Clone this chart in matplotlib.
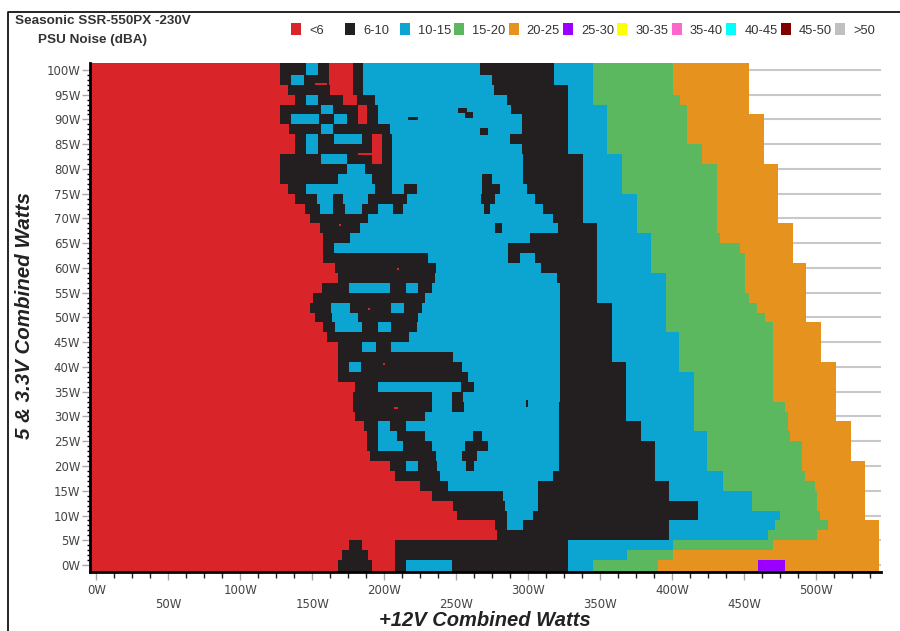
import numpy as np
import matplotlib
matplotlib.use("Agg")
import matplotlib.pyplot as plt
from matplotlib.colors import ListedColormap
from matplotlib.lines import Line2D
from matplotlib.patches import Rectangle

# classes of the noise map
R, K, B, G, O, P = 0, 1, 2, 3, 4, 5

legend_labels = ['<6', '6-10', '10-15', '15-20', '20-25', '25-30', '30-35', '35-40', '40-45', '45-50', '>50']
legend_colors = ['#D9252A', '#231F20', '#0CA5D2', '#5BB85F', '#E6921E', '#9900FF',
                 '#FFFF00', '#FF66CC', '#00FFFF', '#800000', '#C0C0C0']

# rows of the map, top to bottom, one every 2W on the 5 & 3.3V axis
row_watts = list(range(100, -2, -2))

# right hand stairs, watts on the +12V axis where each class stops
orange_edge = [453] * 5 + [463.5] * 5 + [473] * 6 + [483.5] * 4 + [493] * 6 + [503] * 4 + [513.5] * 6 + [524] * 4 + [534] * 6 + [543.5] * 5
green_edge = [400.3] * 3 + [405.2] + [410] * 4 + [420.5] * 2 + [430.9] * 7 + [433, 446.9] + [450.3] * 4 + [453, 458.7, 464.2] \
    + [469.8] * 8 + [478.1, 480.2, 480.2, 481.6, 489.9, 489.9, 489.9, 492, 499, 500.4, 500.4, 502.5, 508, 500.4, 469.8, 400.3, 390]
cyan_edge = [344.8] * 4 + [354.5] * 5 + [365] * 4 + [375.3] * 4 + [385.1] * 4 + [395.5] * 6 + [404.5] * 4 + [414.9] * 6 + [424] * 4 \
    + [435, 435, 455.2, 455.2, 474.7, 471.2, 466.3, 400.3, 368.4, 344.8]
black_edge = [317.7] * 2 + [327.4] * 7 + [337.8] * 7 + [347.6] * 8 + [358] * 6 + [367.7] * 6 + [378.1] * 2 + [387.8] * 4 \
    + [397.6] * 2 + [417.7] * 2 + [397.6] * 2 + [327.4] * 3

# left hand part, (class, watts where it stops) from the y axis on
left_runs = [
    [(R, 127.4), (K, 145.5), (B, 153.8), (K, 161.5), (R, 178.1), (K, 185), (B, 266.3)],
    [(R, 127.4), (K, 135), (B, 144), (K, 161.5), (R, 178.1), (K, 185), (B, 274.7)],
    [(R, 133), (K, 162), (R, 178.1), (K, 185), (B, 276)],
    [(R, 137.8), (K, 145.5), (B, 153.8), (K, 171.2), (R, 180.9), (K, 193.4), (B, 285)],
    [(R, 127.4), (K, 155.9), (B, 164.2), (K, 181.6), (R, 187.8), (K, 195.5), (B, 287.8)],
    [(R, 127.4), (K, 135), (B, 154.5), (K, 164.9), (B, 174), (K, 181.6), (R, 187.8), (K, 195.5), (B, 295.5)],
    [(R, 134), (K, 155.9), (B, 164.2), (K, 203.8), (B, 295.5)],
    [(R, 137.8), (K, 145.5), (B, 153.8), (K, 164.9), (B, 184.4), (K, 191.3), (R, 198.3), (K, 205.2), (B, 287.2)],
    [(R, 137.8), (K, 145.5), (B, 153.8), (K, 191.3), (R, 198.3), (K, 205.2), (B, 295.5)],
    [(R, 127.4), (K, 155.9), (B, 174), (K, 191.3), (R, 198.3), (K, 205.2), (B, 296.2)],
    [(R, 127.4), (K, 174), (B, 186.5), (K, 205.2), (B, 296.2)],
    [(R, 127.4), (K, 167.7), (B, 191.3), (K, 205.2), (B, 267.7), (K, 274.7), (B, 296.2)],
    [(R, 133), (K, 145.5), (B, 193.4), (K, 205.2), (B, 213.5), (K, 222.6), (B, 267.7), (K, 280.2), (B, 299)],
    [(R, 137.8), (K, 153), (B, 164.2), (K, 171.2), (B, 188.5), (K, 215.6), (B, 267), (K, 276.7), (B, 304.5)],
    [(R, 145), (K, 155.2), (B, 164.2), (K, 172.6), (B, 184.4), (K, 195.5), (B, 205.9), (K, 212.8), (B, 269), (K, 273.3), (B, 310)],
    [(R, 148.3), (K, 188.5), (B, 317)],
    [(R, 155), (K, 183), (B, 276.7), (K, 281.6), (B, 320.5)],
    [(R, 157.3), (K, 176), (B, 301)],
    [(R, 157.3), (K, 164.9), (B, 285.8)],
    [(R, 157.3), (K, 230.2), (B, 285.8), (K, 294), (B, 304.5)],
    [(R, 165.6), (K, 235.8), (B, 308.7)],
    [(R, 167.7), (K, 235), (B, 319.8)],
    [(R, 156.6), (K, 175.3), (B, 203.8), (K, 214.9), (B, 223.3), (K, 233), (B, 321.9)],
    [(R, 150.3), (K, 228), (B, 321.9)],
    [(R, 148.3), (K, 162.8), (B, 176), (K, 204.5), (B, 213.5), (K, 226), (B, 321.9)],
    [(R, 151.7), (K, 163.5), (B, 181.6), (K, 223.3), (B, 321.9)],
    [(R, 157.3), (K, 165.6), (B, 184.4), (K, 195.5), (B, 204.5), (K, 222.6), (B, 321.9)],
    [(R, 160), (K, 217), (B, 321.9)],
    [(R, 167.7), (K, 184.4), (B, 194), (K, 204.5), (B, 321.9)],
    [(R, 167.7), (K, 247.6), (B, 321.9)],
    [(R, 167.7), (K, 175.3), (B, 183.7), (K, 253.8), (B, 321.9)],
    [(R, 167.7), (K, 258), (B, 321.9)],
    [(R, 179.5), (K, 195.5), (B, 253.1), (K, 262.2), (B, 321.9)],
    [(R, 178.1), (K, 233), (B, 246.9), (K, 254.5), (B, 321.9)],
    [(R, 178.1), (K, 233), (B, 246.9), (K, 255.2), (B, 321.2)],
    [(R, 179.5), (K, 228), (B, 321.2)],
    [(R, 186), (K, 195.5), (B, 203.8), (K, 214.9), (B, 321.2)],
    [(R, 187.8), (K, 195.5), (B, 208.7), (K, 228), (B, 261.5), (K, 267.7), (B, 321.2)],
    [(R, 187.8), (K, 195.5), (B, 212.8), (K, 233), (B, 255.9), (K, 272), (B, 321.2)],
    [(R, 190), (K, 235.8), (B, 253.8), (K, 264.2), (B, 321.2)],
    [(R, 203.8), (K, 214.9), (B, 223.3), (K, 236.5), (B, 256.6), (K, 262.2), (B, 321.2)],
    [(R, 207.3), (K, 238.5), (B, 317)],
    [(R, 224.7), (K, 244), (B, 306.6)],
    [(R, 233), (K, 282.3), (B, 306.6)],
    [(R, 247.6), (K, 283.7), (B, 306.6)],
    [(R, 250.3), (K, 285), (B, 303)],
    [(R, 276.7), (K, 285), (B, 296.2)],
    [(R, 278.1)],
    [(R, 175.3), (K, 184.4), (R, 207.3), (K, 327.4)],
    [(R, 170.5), (K, 188.5), (R, 207.3), (K, 327.4)],
    [(R, 167.7), (K, 191.3), (R, 207.3), (K, 214.9), (B, 246.9), (K, 327.4)],
]

purple_x = (459.4, 478.1)   # only on the 0W row

# small bits that are thinner than a row: x start, x end, y low, y high
black_bits = [(251, 257, 91.3, 92.3), (256, 261.5, 90.3, 91.5), (216, 223, 89.9, 90.4), (266.5, 272, 86.8, 88.3), (298.6, 299.6, 32, 33.3)]
red_bits = [(208.7, 210.2, 59.6, 60), (188.5, 190, 51.5, 51.9), (199, 200.5, 40.4, 40.8), (206.5, 209.5, 31.5, 31.9), (168.3, 169.8, 68.5, 68.9),
            (151.7, 160, 97, 97.4), (181.6, 191, 82.8, 83.2)]

xmin, xmax = -4.5, 544.8
ymin, ymax = -1.41, 101.4
x_edges = np.arange(xmin, xmax + 0.5, 0.5)
x_mid = (x_edges[:-1] + x_edges[1:]) / 2
y_edges = np.array([ymin] + [v - 1 for v in row_watts[-2::-1]] + [ymax])

noise = np.full((len(row_watts), len(x_mid)), np.nan)
for i, yv in enumerate(row_watts):
    row = len(row_watts) - 1 - i   # pcolormesh wants bottom row first
    noise[row, x_mid < orange_edge[i]] = O
    noise[row, x_mid < green_edge[i]] = G
    noise[row, x_mid < cyan_edge[i]] = B
    noise[row, x_mid < black_edge[i]] = K
    start = xmin
    for cls, stop in left_runs[i]:
        noise[row, (x_mid >= start) & (x_mid < stop)] = cls
        start = stop
noise[0, (x_mid >= purple_x[0]) & (x_mid < purple_x[1])] = P

fig = plt.figure(figsize=(9, 6.31), dpi=100)
W, H = 900, 631
ax = fig.add_axes([90 / W, 1 - 572 / H, (881 - 90) / W, (572 - 63) / H])

cmap = ListedColormap(legend_colors[:6])
ax.pcolormesh(x_edges, y_edges, np.ma.masked_invalid(noise), cmap=cmap, vmin=-0.5, vmax=5.5, zorder=2)

for x0, x1, y0, y1 in black_bits:
    ax.barh((y0 + y1) / 2, x1 - x0, height=y1 - y0, left=x0, color=legend_colors[1], linewidth=0, zorder=3)
for x0, x1, y0, y1 in red_bits:
    ax.barh((y0 + y1) / 2, x1 - x0, height=y1 - y0, left=x0, color=legend_colors[0], linewidth=0, zorder=3)

ax.set_xlim(xmin, xmax)
ax.set_ylim(ymin, ymax)

for s in ['top', 'right']:
    ax.spines[s].set_visible(False)
for s in ['left', 'bottom']:
    ax.spines[s].set_linewidth(2)
    ax.spines[s].set_zorder(5)

y_major = np.arange(0, 105, 5)
ax.set_yticks(y_major)
ax.set_yticklabels([f'{v}W' for v in y_major])
ax.set_yticks(np.arange(0, 101, 1), minor=True)
x_major = np.arange(0, 550, 50)
ax.set_xticks(x_major)
ax.set_xticklabels([f'{v}W' for v in x_major])
ax.set_xticks(np.arange(0, 540, 12.5), minor=True)

ax.tick_params(axis='y', which='major', length=6, width=1, color='#a8a8a8', labelsize=8.5, labelcolor='#444444', pad=1)
ax.tick_params(axis='y', which='minor', length=2.5, width=1, color='black')
ax.tick_params(axis='x', which='major', length=6, width=1, color='#a8a8a8', labelsize=8.5, labelcolor='#444444', pad=3)
ax.tick_params(axis='x', which='minor', length=4, width=1, color='#222222')
for n, tick in enumerate(ax.xaxis.get_major_ticks()):
    if n % 2 == 1:
        tick.set_pad(12.5)

ax.yaxis.grid(True, color='#c8c8c8', linewidth=1.5, zorder=1)
ax.set_axisbelow(True)

txt = dict(family='Liberation Sans')
fig.text(15 / W, 1 - 21 / H, 'Seasonic SSR-550PX -230V', fontsize=9.7, fontweight='bold', color='#333333', va='center', **txt)
fig.text(38 / W, 1 - 40 / H, 'PSU Noise (dBA)', fontsize=9.7, fontweight='bold', color='#333333', va='center', **txt)
fig.text(485 / W, 1 - 621 / H, '+12V Combined Watts', fontsize=14.5, fontweight='bold', fontstyle='italic', color='#222222',
         ha='center', va='center', **txt)
fig.text(25 / W, 1 - 316 / H, '5 & 3.3V Combined Watts', fontsize=14.8, fontweight='bold', fontstyle='italic', color='#222222',
         ha='center', va='center', rotation=90, **txt)

# legend row, drawn by hand since it runs over the whole width
for n, (lab, col) in enumerate(zip(legend_labels, legend_colors)):
    lx = 291 + 54.4 * n
    fig.add_artist(Rectangle((lx / W, 1 - 35 / H), 10 / W, 12 / H, transform=fig.transFigure, facecolor=col, edgecolor='none'))
    fig.text((lx + 18) / W, 1 - 31 / H, lab, fontsize=9.3, color='#333333', va='center', **txt)

# outer frame, only top and left show up
fig.add_artist(Line2D([7.5 / W, 7.5 / W, 1], [0, 1 - 11.5 / H, 1 - 11.5 / H], transform=fig.transFigure, color='black', linewidth=1.2))

fig.savefig('out.png', dpi=100)
